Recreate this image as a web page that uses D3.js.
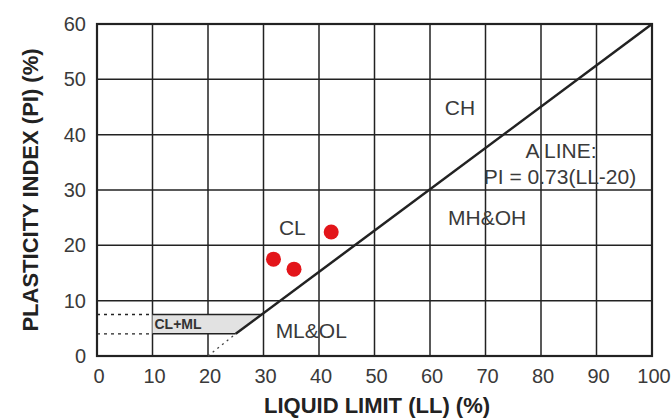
<!DOCTYPE html>
<html><head><meta charset="utf-8">
<script src="https://cdn.jsdelivr.net/npm/d3@7"></script>
<style>body{margin:0;background:#fff}svg{display:block}text{font-family:"Liberation Sans",Arial,sans-serif}</style>
</head><body>
<svg id="c" width="672" height="419"></svg>
<script>
const xTicks = [0,10,20,30,40,50,60,70,80,90,100];
const yTicks = [0,10,20,30,40,50,60];
const samplesLL = [31.8, 35.5, 42.2];
const samplesPI = [17.5, 15.7, 22.4];
const aLineLL = [25, 100];
const aLinePI = [4, 60];
const aLineExtLL = [20, 25];
const aLineExtPI = [0, 4];
const clmlPI = [4, 7.5];
const zoneLabels = ["CL","CH","MH&OH","ML&OL"];
const zoneLL = [35.2, 65.4, 70.3, 38.6];
const zonePI = [21.9, 43.6, 23.7, 3.25];

const svg = d3.select("#c");
const x = d3.scaleLinear().domain([0,100]).range([97,652]);
const y = d3.scaleLinear().domain([0,60]).range([356,24]);
const ink = "#222";
const txt = "#3a3a3a";

// grid
svg.append("g").selectAll("line").data(xTicks).join("line")
  .attr("x1",d=>x(d)).attr("x2",d=>x(d)).attr("y1",y(0)).attr("y2",y(60))
  .attr("stroke",ink).attr("stroke-width",1.5);
svg.append("g").selectAll("line").data(yTicks).join("line")
  .attr("x1",x(0)).attr("x2",x(100)).attr("y1",d=>y(d)).attr("y2",d=>y(d))
  .attr("stroke",ink).attr("stroke-width",1.5);

// CL+ML zone
const slope = (aLinePI[1]-aLinePI[0])/(aLineLL[1]-aLineLL[0]);
const llAt = pi => aLineLL[0] + (pi - aLinePI[0])/slope;
const poly = [[10,clmlPI[0]],[llAt(clmlPI[0]),clmlPI[0]],[llAt(clmlPI[1]),clmlPI[1]],[10,clmlPI[1]]];
svg.append("path").attr("d", d3.line().x(d=>x(d[0])).y(d=>y(d[1]))(poly)+"Z")
  .attr("fill","#e2e2e2").attr("stroke","none");
clmlPI.forEach(p=>{
  svg.append("line").attr("x1",x(10)).attr("x2",x(llAt(p))).attr("y1",y(p)).attr("y2",y(p))
    .attr("stroke",ink).attr("stroke-width",1.5);
  svg.append("line").attr("x1",x(0)).attr("x2",x(10)).attr("y1",y(p)).attr("y2",y(p))
    .attr("stroke",ink).attr("stroke-width",1.3).attr("stroke-dasharray","3,4");
});
svg.append("text").attr("x",x(10)+2).attr("y",y((clmlPI[0]+clmlPI[1])/2)+5)
  .attr("font-size",14).attr("font-weight","bold").attr("fill","#333").text("CL+ML");

// border
svg.append("rect").attr("x",x(0)).attr("y",y(60)).attr("width",x(100)-x(0)).attr("height",y(0)-y(60))
  .attr("fill","none").attr("stroke",ink).attr("stroke-width",2.2);

// A line
const ln = d3.line().x(d=>x(d[0])).y(d=>y(d[1]));
svg.append("path").attr("d", ln(aLineLL.map((v,i)=>[v,aLinePI[i]])))
  .attr("stroke",ink).attr("stroke-width",2.5).attr("fill","none");
svg.append("path").attr("d", ln(aLineExtLL.map((v,i)=>[v,aLineExtPI[i]])))
  .attr("stroke","#444").attr("stroke-width",1.3).attr("stroke-dasharray","2,4").attr("fill","none");

// samples
svg.append("g").selectAll("circle").data(samplesLL).join("circle")
  .attr("cx",d=>x(d)).attr("cy",(d,i)=>y(samplesPI[i])).attr("r",7.5).attr("fill","#e3151a");

// zone labels
svg.append("g").selectAll("text").data(zoneLabels).join("text")
  .attr("x",(d,i)=>x(zoneLL[i])).attr("y",(d,i)=>y(zonePI[i])).attr("text-anchor","middle")
  .attr("font-size",21).attr("fill",txt).text(d=>d);
svg.append("text").attr("x",561).attr("y",158).attr("text-anchor","middle").attr("font-size",21).attr("fill",txt).text("A LINE:");
svg.append("text").attr("x",560).attr("y",184).attr("text-anchor","middle").attr("font-size",21).attr("fill",txt).text("PI = 0.73(LL-20)");

// axes tick labels
svg.append("g").selectAll("text").data(xTicks).join("text")
  .attr("x",d=>x(d)+2).attr("y",383).attr("text-anchor","middle").attr("font-size",20).attr("fill",txt).text(d=>d);
svg.append("g").selectAll("text").data(yTicks).join("text")
  .attr("x",86).attr("y",d=>y(d)+7).attr("text-anchor","end").attr("font-size",20).attr("fill",txt).text(d=>d);

// titles
svg.append("text").attr("x",377).attr("y",413).attr("text-anchor","middle").attr("font-size",22).attr("font-weight","bold").attr("fill","#222").text("LIQUID LIMIT (LL) (%)");
svg.append("text").attr("transform","translate(38,190) rotate(-90)").attr("text-anchor","middle").attr("font-size",22).attr("font-weight","bold").attr("fill","#222").text("PLASTICITY INDEX (PI) (%)");
</script>
</body></html>
